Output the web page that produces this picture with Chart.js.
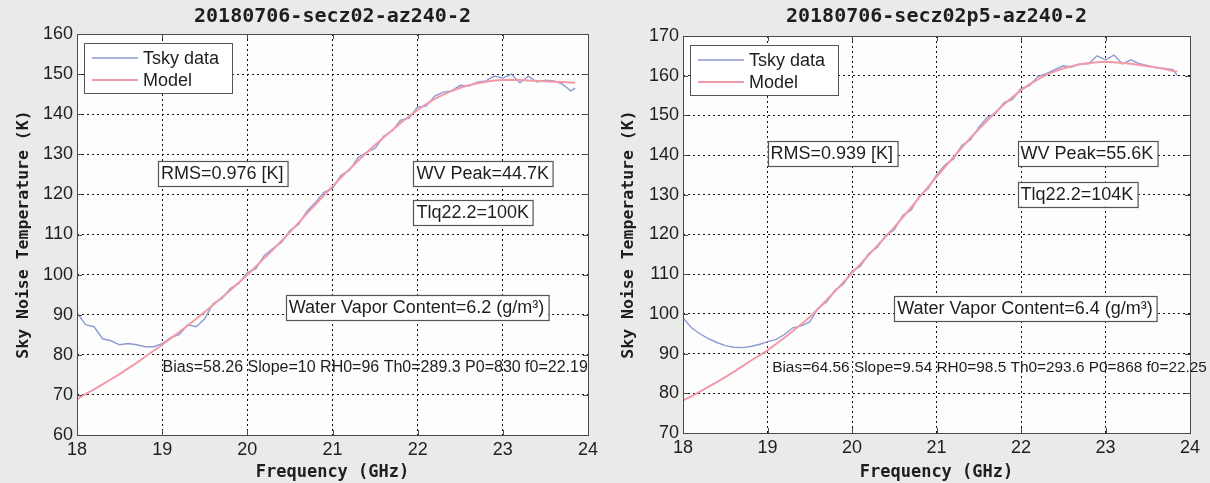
<!DOCTYPE html>
<html>
<head>
<meta charset="utf-8">
<script src="https://cdn.jsdelivr.net/npm/chart.js@4.4.1/dist/chart.umd.min.js"></script>
<style>
    html, body { margin: 0; padding: 0; background: #e8ebe7; }
    .panel { position: absolute; top: 0; width: 605px; height: 483px; }
</style>
</head>
<body>
<div class="panel" style="left:0"><canvas id="chartLeft" width="605" height="483"></canvas></div>
<div class="panel" style="left:605px"><canvas id="chartRight" width="605" height="483"></canvas></div>
<script>
// --- DATOS ---
const freq = [18.0, 18.1, 18.2, 18.3, 18.4, 18.5, 18.6, 18.7, 18.8, 18.9,
    19.0, 19.1, 19.2, 19.3, 19.4, 19.5, 19.6, 19.7, 19.8, 19.9,
    20.0, 20.1, 20.2, 20.3, 20.4, 20.5, 20.6, 20.7, 20.8, 20.9,
    21.0, 21.1, 21.2, 21.3, 21.4, 21.5, 21.6, 21.7, 21.8, 21.9,
    22.0, 22.1, 22.2, 22.3, 22.4, 22.5, 22.6, 22.7, 22.8, 22.9,
    23.0, 23.1, 23.2, 23.3, 23.4, 23.5, 23.6, 23.7, 23.8, 23.85];

const tskyLeft = [90.5, 87.5, 87.0, 84.0, 83.5, 82.5, 82.8, 82.5, 82.0, 82.0,
    82.8, 84.3, 85.0, 87.5, 87.0, 89.0, 92.8, 94.0, 96.5, 97.8,
    100.5, 101.5, 104.8, 106.5, 108.0, 111.0, 112.5, 115.8, 118.0, 120.5,
    121.5, 124.8, 126.0, 129.2, 130.5, 131.5, 134.5, 135.8, 138.5, 139.0,
    141.8, 142.0, 144.5, 145.5, 145.8, 147.2, 147.0, 148.0, 148.3, 149.5,
    149.0, 150.0, 147.8, 149.5, 148.0, 148.5, 148.3, 147.5, 145.8, 146.5];

const modelLeft = [69.0, 70.2, 71.4, 72.6, 73.9, 75.2, 76.6, 78.0, 79.5, 81.0,
    82.5, 84.1, 85.7, 87.3, 89.0, 90.7, 92.5, 94.3, 96.1, 98.0,
    99.9, 102.0, 104.1, 106.2, 108.4, 110.6, 112.9, 115.2, 117.5, 119.8,
    122.0, 124.2, 126.3, 128.4, 130.4, 132.3, 134.2, 136.0, 137.8, 139.5,
    141.1, 142.5, 143.8, 144.9, 145.8, 146.6, 147.2, 147.7, 148.1, 148.4,
    148.5, 148.5, 148.5, 148.4, 148.3, 148.2, 148.1, 148.0, 147.9, 147.85];

const tskyRight = [99.0, 96.5, 95.0, 93.8, 92.8, 92.0, 91.6, 91.5, 91.8, 92.3,
    93.0, 93.5, 94.8, 96.5, 97.0, 98.0, 101.5, 103.0, 106.0, 107.5,
    110.8, 112.0, 115.2, 116.8, 119.8, 121.2, 124.8, 126.2, 129.8, 131.5,
    135.0, 137.5, 139.0, 142.5, 143.8, 147.0, 149.5, 150.5, 153.2, 154.0,
    156.8, 157.5, 159.8, 160.5, 161.5, 162.5, 162.2, 163.0, 163.0, 165.0,
    164.0, 165.2, 163.0, 164.0, 163.0, 162.5, 162.0, 161.8, 161.5, 160.0];

const modelRight = [78.2, 79.2, 80.4, 81.6, 82.8, 84.1, 85.4, 86.8, 88.2, 89.5,
    90.8, 92.4, 94.0, 95.7, 97.4, 99.2, 101.3, 103.5, 105.7, 108.0,
    110.3, 112.6, 114.9, 117.2, 119.5, 121.8, 124.3, 126.8, 129.4, 132.0,
    134.5, 137.0, 139.5, 141.9, 144.3, 146.5, 148.7, 150.8, 152.8, 154.6,
    156.3, 157.8, 159.1, 160.2, 161.1, 161.8, 162.4, 162.9, 163.2, 163.4,
    163.5, 163.4, 163.2, 163.0, 162.7, 162.4, 162.1, 161.7, 161.2, 161.0];

// rango de ejes [min, max]
const xRange = [18, 24];
const yRangeLeft = [60, 160];
const yRangeRight = [70, 170];

// textos: [frecuencia, temperatura, texto, con caja]
const notesLeft = [
    [18.95, 125.3, 'RMS=0.976 [K]', true],
    [21.95, 125.3, 'WV Peak=44.7K', true],
    [21.95, 115.5, 'Tlq22.2=100K', true],
    [20.45, 91.8, 'Water Vapor Content=6.2 (g/m\u00B3)', true],
    [18.97, 77.0, 'Bias=58.26 Slope=10 RH0=96 Th0=289.3 P0=830 f0=22.19', false]
];
const notesRight = [
    [19.0, 140.5, 'RMS=0.939 [K]', true],
    [21.96, 140.5, 'WV Peak=55.6K', true],
    [21.96, 130.3, 'Tlq22.2=104K', true],
    [20.5, 101.6, 'Water Vapor Content=6.4 (g/m\u00B3)', true],
    [19.02, 86.6, 'Bias=64.56 Slope=9.54 RH0=98.5 Th0=293.6 P0=868 f0=22.25', false]
];

const INK = '#1e1e1e';
const DATA_COLOR = '#8e9bd3';
const MODEL_COLOR = '#f39aa8';
const TEXT_FONT = '"Liberation Sans", Arial, sans-serif';

// --- PLUGIN: marco, leyenda y textos estilo MATLAB ---
const matlabPlugin = {
    id: 'matlab',
    beforeDraw(chart) {
        const { ctx, chartArea: a } = chart;
        ctx.save();
        ctx.fillStyle = '#fdfdfd';
        ctx.fillRect(a.left, a.top, a.right - a.left, a.bottom - a.top);
        ctx.restore();
    },
    afterDatasetsDraw(chart) {
        const { ctx, chartArea: a, scales } = chart;
        const opts = chart.options.plugins.matlab;
        ctx.save();

        // marco y marcas hacia dentro
        ctx.strokeStyle = '#4a4a4a';
        ctx.lineWidth = 1;
        ctx.strokeRect(a.left + 0.5, a.top + 0.5, a.right - a.left, a.bottom - a.top);
        ctx.beginPath();
        scales.x.ticks.forEach(t => {
            const px = Math.round(scales.x.getPixelForValue(t.value)) + 0.5;
            ctx.moveTo(px, a.bottom); ctx.lineTo(px, a.bottom - 5);
            ctx.moveTo(px, a.top); ctx.lineTo(px, a.top + 5);
        });
        scales.y.ticks.forEach(t => {
            const py = Math.round(scales.y.getPixelForValue(t.value)) + 0.5;
            ctx.moveTo(a.left, py); ctx.lineTo(a.left + 5, py);
            ctx.moveTo(a.right, py); ctx.lineTo(a.right - 5, py);
        });
        ctx.stroke();

        // leyenda
        const lx = a.left + 7, ly = a.top + 9;
        ctx.fillStyle = '#ffffff';
        ctx.fillRect(lx, ly, 148, 50);
        ctx.strokeStyle = '#555';
        ctx.strokeRect(lx + 0.5, ly + 0.5, 148, 50);
        ctx.font = '18px ' + TEXT_FONT;
        ctx.textBaseline = 'middle';
        chart.data.datasets.forEach((ds, i) => {
            const yy = ly + 15 + i * 22;
            ctx.strokeStyle = ds.borderColor;
            ctx.lineWidth = ds.borderWidth;
            ctx.beginPath(); ctx.moveTo(lx + 8, yy); ctx.lineTo(lx + 54, yy); ctx.stroke();
            ctx.fillStyle = INK;
            ctx.fillText(ds.label, lx + 59, yy + 1);
        });

        // textos
        opts.notes.forEach(([fx, ty, text, boxed]) => {
            const px = scales.x.getPixelForValue(fx);
            const py = scales.y.getPixelForValue(ty);
            ctx.font = (boxed ? 18 : opts.smallSize) + 'px ' + TEXT_FONT;
            const w = ctx.measureText(text).width;
            if (boxed) {
                ctx.fillStyle = '#ffffff';
                ctx.fillRect(px, py - 12, w + 7, 25);
                ctx.strokeStyle = '#555';
                ctx.lineWidth = 1.2;
                ctx.strokeRect(Math.round(px) + 0.5, Math.round(py - 12) + 0.5, w + 7, 25);
            }
            ctx.fillStyle = INK;
            ctx.textBaseline = 'middle';
            ctx.fillText(text, px + 3, py + 1);
        });
        ctx.restore();
    }
};

function buildChart(canvasId, title, tsky, model, yRange, notes, box) {
    return new Chart(document.getElementById(canvasId), {
        type: 'line',
        data: {
            datasets: [
                { label: 'Tsky data', data: freq.map((f, i) => ({ x: f, y: tsky[i] })), borderColor: DATA_COLOR, borderWidth: 1.4, pointRadius: 0, order: 1 },
                { label: 'Model', data: freq.map((f, i) => ({ x: f, y: model[i] })), borderColor: MODEL_COLOR, borderWidth: 2, pointRadius: 0, order: 0 }
            ]
        },
        options: {
            responsive: false,
            animation: false,
            events: [],
            layout: { padding: { left: 0, right: box.right, top: 0, bottom: 0 } },
            scales: {
                x: {
                    type: 'linear', min: xRange[0], max: xRange[1],
                    ticks: { stepSize: 1, color: INK, padding: 4, font: { family: TEXT_FONT, size: 18 } },
                    grid: { color: '#111', lineWidth: 1, drawTicks: false },
                    border: { display: false, dash: [2, 3] },
                    title: { display: true, text: 'Frequency (GHz)', color: INK, padding: { top: 0, bottom: 0 }, font: { family: '"DejaVu Sans Mono", monospace', size: 17, weight: 'bold', lineHeight: 1.2 } },
                    afterFit: s => { s.height = box.bottom; }
                },
                y: {
                    min: yRange[0], max: yRange[1],
                    ticks: { stepSize: 10, color: INK, padding: 4, font: { family: TEXT_FONT, size: 18 } },
                    grid: { color: '#111', lineWidth: 1, drawTicks: false },
                    border: { display: false, dash: [2, 3] },
                    title: { display: true, text: 'Sky Noise Temperature (K)', color: INK, padding: { top: 14, bottom: 0 }, font: { family: '"DejaVu Sans Mono", monospace', size: 16.5, weight: 'bold', lineHeight: 1.2 } },
                    afterFit: s => { s.width = box.left; }
                }
            },
            plugins: {
                legend: { display: false },
                tooltip: { enabled: false },
                title: { display: true, fullSize: false, text: title, color: INK, padding: { top: 5, bottom: box.top - 5 - 24 }, font: { family: '"DejaVu Sans Mono", monospace', size: 20, weight: 'bold', lineHeight: 1.2 } },
                matlab: { notes: notes, smallSize: box.small }
            }
        },
        plugins: [matlabPlugin]
    });
}

buildChart('chartLeft', '20180706-secz02-az240-2', tskyLeft, modelLeft, yRangeLeft, notesLeft, { left: 77, top: 34, bottom: 48, right: 17, small: 16 });
buildChart('chartRight', '20180706-secz02p5-az240-2', tskyRight, modelRight, yRangeRight, notesRight, { left: 78, top: 36, bottom: 50, right: 20, small: 15.4 });
</script>
</body>
</html>
